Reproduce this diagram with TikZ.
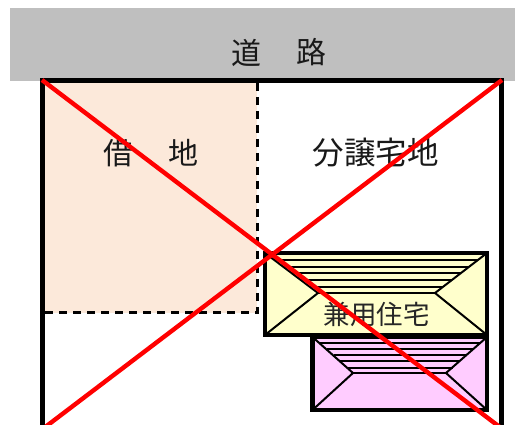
\documentclass[tikz,border=0pt]{standalone}
\usepackage{fontspec}
\setmainfont{Noto Sans CJK JP}
\definecolor{roadgray}{HTML}{BFBFBF}
\definecolor{peach}{HTML}{FCE9DA}
\definecolor{roofyellow}{HTML}{FFFFCC}
\definecolor{roofpink}{HTML}{FFCCFF}
\definecolor{crossred}{HTML}{FF0000}
\tikzset{
  lot/.style={draw=black,line width=5pt,line cap=rect},
  boundary/.style={draw=black,line width=3pt,dash pattern=on 8pt off 6pt},
  house/.style={draw=black,line width=4.4pt,line join=miter},
  roofline/.style={draw=black,line width=2pt},
  cross/.style={draw=crossred,line width=4.4pt},
  label/.style={inner sep=0pt,text=black!90,font=\fontsize{30}{30}\selectfont},
  salelabel/.style={inner sep=0pt,text=black!90,font=\fontsize{31.5}{32}\selectfont},
  smalllabel/.style={inner sep=0pt,text=black!85,font=\fontsize{26.5}{27}\selectfont},
}
\begin{document}
\begin{tikzpicture}[x=1pt,y=-1pt]
\useasboundingbox (0,0) rectangle (515,425);
% road
\fill[roadgray] (10,8) rectangle (515,81);
\node[label] (roadA) at (246.5,52.5) {道};
\node[label] (roadB) at (311,52.5) {路};
% leased land
\fill[peach] (43,81) rectangle (257,313);
\draw[boundary] (257,83) -- (257,313) -- (43,313);
% lot outline
\draw[lot] (42.5,440) -- (42.5,80.5) -- (501.5,80.5) -- (501.5,440);
% labels
\node[label] (leaseA) at (118,153) {借};
\node[label] (leaseB) at (183.5,153) {地};
\node[salelabel] (sale) at (375.5,153) {分譲宅地};
% yellow house
\draw[house,fill=roofyellow] (265,253) rectangle (487,335);
\coordinate (yl) at (318,293);
\coordinate (yr) at (435,293);
\draw[roofline] (265,253) -- (yl) -- (265,335);
\draw[roofline] (487,253) -- (yr) -- (487,335);
\draw[roofline] (yl) -- (yr);
\foreach \yy/\xa/\xb in {260/274/478, 267/283/469, 273/291/461, 280/300/452, 287/310/443}
  \draw[roofline] (\xa,\yy) -- (\xb,\yy);
% pink house
\draw[house,fill=roofpink] (312.5,337) rectangle (487,410);
\coordinate (pl) at (353,373);
\coordinate (pr) at (446,373);
\draw[roofline] (312.5,337) -- (pl) -- (312.5,410);
\draw[roofline] (487,337) -- (pr) -- (487,410);
\draw[roofline] (pl) -- (pr);
\foreach \yy/\xa/\xb in {343/320/480, 349/327/473, 355/334/467, 361/340/460, 368/347/453}
  \draw[roofline] (\xa,\yy) -- (\xb,\yy);
\node[smalllabel] (mixed) at (376.5,314) {兼用住宅};
% cross
\draw[cross] (42,80) -- (505,431);
\draw[cross] (502,80) -- (40,431);
\end{tikzpicture}
\end{document}
